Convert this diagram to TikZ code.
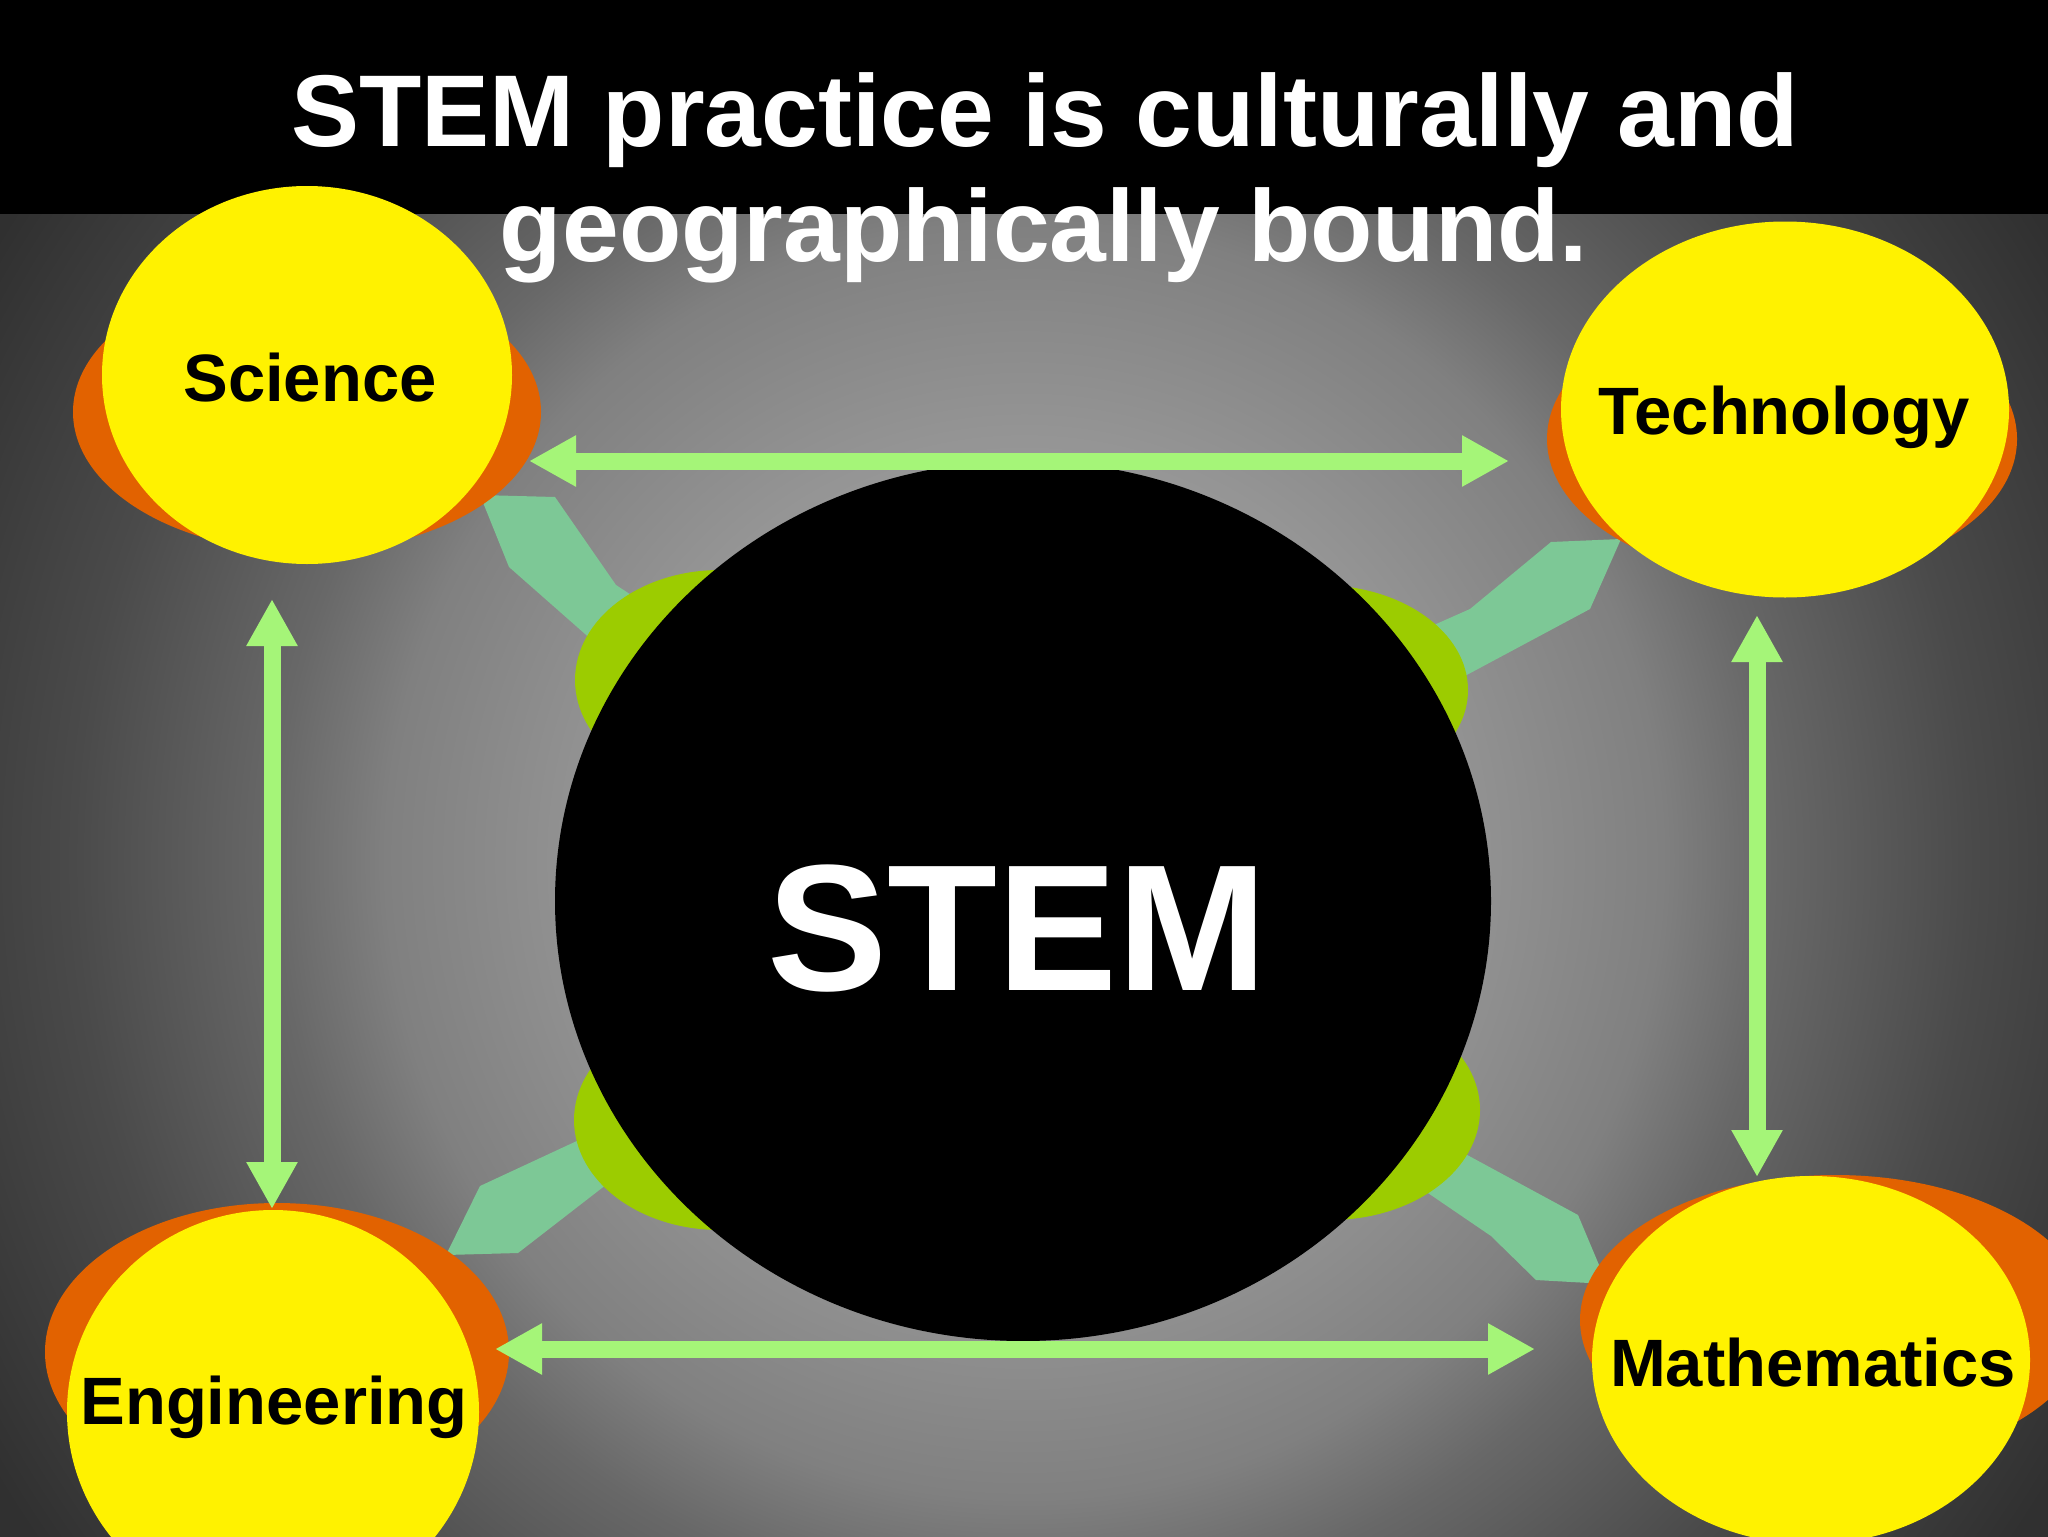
\documentclass[tikz,border=0pt]{standalone}
\usepackage{fontspec}
\setmainfont{Liberation Sans}
\usetikzlibrary{shapes.geometric,arrows.meta}
\definecolor{bgA}{HTML}{B2B2B2}
\definecolor{bgB}{HTML}{959595}
\definecolor{bgC}{HTML}{808080}
\definecolor{bgD}{HTML}{686868}
\definecolor{bgE}{HTML}{4A4A4A}
\definecolor{bgF}{HTML}{303030}
\definecolor{orng}{RGB}{226,98,0}
\definecolor{limeg}{RGB}{156,204,0}
\definecolor{tealg}{RGB}{125,200,150}
\definecolor{tealh}{RGB}{145,210,130}
\definecolor{arrowg}{RGB}{165,245,120}
\pgfdeclareradialshading{bgshade}{\pgfpoint{0bp}{0bp}}{color(0bp)=(bgA); color(8.75bp)=(bgB); color(13.3bp)=(bgC); color(15.6bp)=(bgD); color(19.8bp)=(bgE); color(25bp)=(bgF); color(50bp)=(bgF)}
\tikzset{
  yell/.style={ellipse, fill=yellow, inner sep=0pt},
  orb/.style={ellipse, fill=orng, inner sep=0pt},
  grn/.style={ellipse, fill=limeg, inner sep=0pt},
  hub/.style={ellipse, fill=black, inner sep=0pt},
  tealshape/.style={fill=tealg},
  lbl/.style={font=\fontsize{33.5}{40}\selectfont\bfseries, text=black, inner sep=0pt, anchor=base},
  ttl/.style={font=\fontsize{51}{60}\selectfont\bfseries, text=white, inner sep=0pt, anchor=base},
  bigtxt/.style={font=\fontsize{90}{100}\selectfont\bfseries, text=white, inner sep=0pt, anchor=base},
  link/.style={draw=arrowg, line width=8.5pt, {Triangle[length=23.5pt,width=24pt]}-{Triangle[length=23.5pt,width=24pt]}},
}
\begin{document}
\begin{tikzpicture}[x=0.5pt,y=-0.5pt]
\useasboundingbox (0,0) rectangle (2048,1536);
\clip (0,0) rectangle (2048,1536);
% background
\shade[shading=bgshade] (-176,-340) rectangle (2224,2060);
\fill[black] (0,0) rectangle (2048,214);
% teal pointers
\fill[tealshape] (480,495) -- (555,497) -- (616,585) -- (700,640) -- (660,700) -- (509,567) -- cycle;
\fill[tealshape] (1551,542) -- (1621,539) -- (1590,609) -- (1420,700) -- (1400,640) -- (1470,609) -- cycle;
\fill[tealshape] (446,1255) -- (518,1253) -- (620,1174) -- (650,1160) -- (620,1110) -- (594,1133) -- (480,1186) -- cycle;
\fill[tealshape] (1536,1280) -- (1607,1284) -- (1578,1215) -- (1458,1150) -- (1420,1130) -- (1400,1180) -- (1425,1191) -- (1491,1236) -- cycle;
% green discs behind hub
\node[grn, minimum width=145pt, minimum height=110pt] (gul) at (720,680) {};
\node[grn, minimum width=146pt, minimum height=110pt] (gll) at (720,1120) {};
\node[grn, minimum width=148pt, minimum height=105pt] (gur) at (1320,690) {};
\node[grn, minimum width=150pt, minimum height=110pt] (glr) at (1330,1110) {};
% hub
\node[hub, minimum width=468pt, minimum height=440pt] (hub) at (1023,901) {};
\node[bigtxt] (stemt) at (1017,990) {STEM};
% orange shadows
\node[orb, minimum width=234pt, minimum height=140pt] (osci) at (307,412) {};
\node[orb, minimum width=235pt, minimum height=140pt] (otec) at (1782,439) {};
\node[orb, minimum width=232pt, minimum height=149pt] (oeng) at (277,1352) {};
\node[orb, minimum width=255pt, minimum height=145pt] (omat) at (1835,1320) {};
% yellow discs
\node[yell, minimum width=205pt, minimum height=189pt] (sci) at (307,375) {};
\node[yell, minimum width=224pt, minimum height=188pt] (tec) at (1785,409.5) {};
\node[yell, minimum width=206pt, minimum height=202pt] (eng) at (273,1412) {};
\node[yell, minimum width=219pt, minimum height=184pt] (mat) at (1811,1360) {};
% labels
\node[lbl] (scil) at (310,401) {Science};
\node[lbl] (tecl) at (1784,434) {Technology};
\node[lbl] (engl) at (274,1424) {Engineering};
\node[lbl] (matl) at (1813,1386) {Mathematics};
% arrow ends
\coordinate (a1) at (529,461);
\coordinate (a2) at (1509,461);
\coordinate (b1) at (495,1349);
\coordinate (b2) at (1535,1349);
\coordinate (c1) at (272,599);
\coordinate (c2) at (272,1209);
\coordinate (d1) at (1757,615);
\coordinate (d2) at (1757,1177);
\draw[link] (a1) -- (a2);
\draw[link] (b1) -- (b2);
\draw[link] (c1) -- (c2);
\draw[link] (d1) -- (d2);
% title
\node[ttl] (t1) at (1045,146) {STEM practice is culturally and};
\node[ttl] (t2) at (1044,261) {geographically bound.};
\end{tikzpicture}
\end{document}
